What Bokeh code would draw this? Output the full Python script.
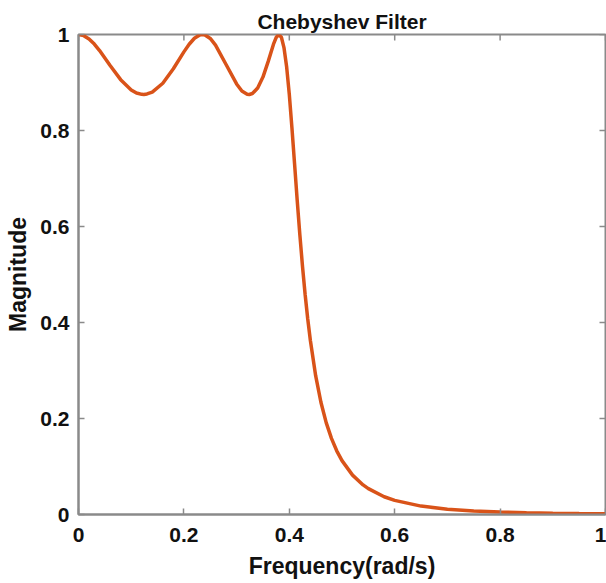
import math
from bokeh.plotting import figure
from bokeh.models import FixedTicker, Range1d
from bokeh.embed import file_html
from bokeh.resources import INLINE

# ---- data ----
freq = [0, 0.01, 0.02, 0.03, 0.04, 0.06, 0.08, 0.10, 0.11, 0.12, 0.124, 0.13, 0.14,
        0.16, 0.18, 0.20, 0.21, 0.22, 0.23, 0.235, 0.24, 0.25, 0.26, 0.28, 0.30,
        0.31, 0.32, 0.324, 0.33, 0.34, 0.35, 0.36, 0.37, 0.375, 0.38, 0.385, 0.39,
        0.395, 0.40, 0.405, 0.41, 0.415, 0.42, 0.425, 0.43, 0.435, 0.44, 0.45,
        0.46, 0.47, 0.48, 0.49, 0.50, 0.52, 0.54, 0.55, 0.58, 0.60, 0.65, 0.70,
        0.75, 0.80, 0.85, 0.90, 0.95, 1.00]
magnitude = [1.0, 0.9976, 0.9908, 0.9800, 0.9665, 0.9353, 0.9059, 0.8846, 0.8781,
             0.8753, 0.8751, 0.8762, 0.8798, 0.8984, 0.9286, 0.9638, 0.9797, 0.9922,
             0.9991, 1.0, 0.9991, 0.9918, 0.9780, 0.9375, 0.8970, 0.8822, 0.8756,
             0.8751, 0.8770, 0.8886, 0.9113, 0.9440, 0.9798, 0.9937, 0.9999, 0.9942,
             0.9721, 0.9321, 0.8752, 0.8056, 0.7305, 0.6543, 0.5832, 0.5176, 0.4589,
             0.4074, 0.3625, 0.2893, 0.2339, 0.1915, 0.1586, 0.1327, 0.1122, 0.0820,
             0.0616, 0.0539, 0.0370, 0.0294, 0.0175, 0.0110, 0.0073, 0.0050, 0.0035,
             0.0026, 0.0019, 0.0014]

x_ticks = [0, 0.2, 0.4, 0.6, 0.8, 1]
x_tick_labels = ["0", "0.2", "0.4", "0.6", "0.8", "1"]
y_ticks = [0, 0.2, 0.4, 0.6, 0.8, 1]
y_tick_labels = ["0", "0.2", "0.4", "0.6", "0.8", "1"]

title_text = "Chebyshev Filter"
x_label = "Frequency(rad/s)"
y_label = "Magnitude"

FONT = "Liberation Sans"
AXIS_COLOR = "#8a8a8a"
TEXT_COLOR = "#111111"

p = figure(width=606, height=583, output_backend="svg", toolbar_location=None,
           x_range=Range1d(0, 1), y_range=Range1d(0, 1),
           min_border_left=78, min_border_right=1, min_border_top=34,
           min_border_bottom=69, title=title_text)

p.title.align = "center"
p.title.text_font = FONT
p.title.text_font_size = "21px"
p.title.text_font_style = "bold"
p.title.text_color = TEXT_COLOR
p.title.offset = 0
p.title.standoff = 3

p.xgrid.visible = False
p.ygrid.visible = False
p.outline_line_color = AXIS_COLOR
p.outline_line_width = 2
p.background_fill_color = "white"
p.border_fill_color = "white"


def style_axis(ax, ticks, labels, standoff, label_standoff):
    ax.ticker = FixedTicker(ticks=ticks, minor_ticks=[])
    ax.major_tick_in = 6
    ax.major_tick_out = 0
    ax.minor_tick_line_color = None
    ax.axis_line_color = AXIS_COLOR
    ax.axis_line_width = 2
    ax.major_tick_line_color = AXIS_COLOR
    ax.major_tick_line_width = 1.5
    ax.major_label_overrides = {t: l for t, l in zip(ticks, labels)}
    ax.major_label_text_font = FONT
    ax.major_label_text_font_size = "21px"
    ax.major_label_text_font_style = "bold"
    ax.major_label_text_color = TEXT_COLOR
    ax.major_label_standoff = standoff
    ax.axis_label_text_font = FONT
    ax.axis_label_text_font_size = "23px"
    ax.axis_label_text_font_style = "bold"
    ax.axis_label_text_color = TEXT_COLOR
    ax.axis_label_standoff = label_standoff


style_axis(p.xaxis[0], x_ticks, x_tick_labels, 13, 8)
style_axis(p.yaxis[0], y_ticks, y_tick_labels, 9, 6)
p.xaxis[0].axis_label = x_label
p.yaxis[0].axis_label = y_label

# inward ticks on the top and right edges of the box
top_y = [y_ticks[-1]] * len(x_ticks)
right_x = [x_ticks[-1]] * len(y_ticks)
p.scatter(x_ticks, top_y, marker="dash", size=12, angle=math.pi / 2,
          line_color=AXIS_COLOR, line_width=1.5)
p.scatter(right_x, y_ticks, marker="dash", size=12,
          line_color=AXIS_COLOR, line_width=1.5)

p.line(freq, magnitude, line_color="#D95319", line_width=3.5)

open("out.html", "w").write(file_html(p, INLINE))
